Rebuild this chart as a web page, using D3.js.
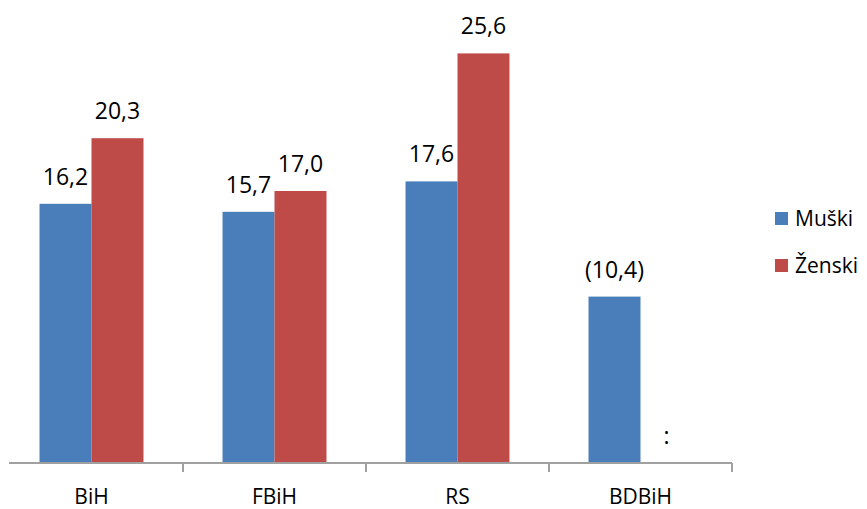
<!DOCTYPE html>
<html>
<head>
<meta charset="utf-8">
<script src="https://cdn.jsdelivr.net/npm/d3@7"></script>
<style>
  html, body { margin: 0; padding: 0; background: #fff; }
  svg { display: block; }
  text { font-family: "Open Sans", "Noto Sans", sans-serif; fill: #000; }
</style>
</head>
<body>
<svg id="chart" width="867" height="509"></svg>
<script>
const categories = ["BiH", "FBiH", "RS", "BDBiH"];
const seriesNames = ["Muški", "Ženski"];
const muski = [16.2, 15.7, 17.6, 10.4];
const zenski = [20.3, 17.0, 25.6, null];
const muskiLabels = ["16,2", "15,7", "17,6", "(10,4)"];
const zenskiLabels = ["20,3", "17,0", "25,6", ":"];
const colors = ["#4a7ebb", "#be4b48"];

const svg = d3.select("#chart");
const baseY = 463;

const x = d3.scaleBand().domain(categories).range([0, 732]).paddingInner(0).paddingOuter(0);
const xs = d3.scaleBand().domain(seriesNames).range([0, x.bandwidth()]).paddingInner(0).paddingOuter(0.76);
const y = d3.scaleLinear().domain([0, 30]).range([baseY, baseY - 480]);

const series = [
  {name: seriesNames[0], values: muski, labels: muskiLabels, color: colors[0]},
  {name: seriesNames[1], values: zenski, labels: zenskiLabels, color: colors[1]}
];

const g = svg.append("g");

series.forEach(s => {
  const data = categories.map((c, i) => ({c, v: s.values[i], label: s.labels[i]}));
  g.selectAll(null).data(data.filter(d => d.v != null)).enter().append("rect")
    .attr("x", d => x(d.c) + xs(s.name))
    .attr("width", xs.bandwidth())
    .attr("y", d => y(d.v))
    .attr("height", d => y(0) - y(d.v))
    .attr("fill", s.color);
  g.selectAll(null).data(data).enter().append("text")
    .attr("x", d => x(d.c) + xs(s.name) + xs.bandwidth() / 2)
    .attr("y", d => y(d.v == null ? 0 : d.v) - 19)
    .attr("text-anchor", "middle")
    .attr("font-size", 23)
    .text(d => d.label);
});

// axis
const axisColor = "#a0a0a0";
svg.append("line").attr("x1", 9).attr("x2", x.range()[1]).attr("y1", baseY).attr("y2", baseY)
  .attr("stroke", axisColor).attr("stroke-width", 2);
categories.forEach(c => {
  const xe = x(c) + x.bandwidth();
  svg.append("line").attr("x1", xe).attr("x2", xe).attr("y1", baseY).attr("y2", baseY + 9)
    .attr("stroke", axisColor).attr("stroke-width", 2);
});
svg.append("g").selectAll("text").data(categories).enter().append("text")
  .attr("x", d => x(d) + x.bandwidth() / 2)
  .attr("y", 504)
  .attr("text-anchor", "middle")
  .attr("font-size", 21)
  .text(d => d);

// legend
const legend = svg.append("g");
series.forEach((s, i) => {
  const ly = 219 + i * 47;
  legend.append("rect").attr("x", 775).attr("y", ly - 7).attr("width", 13).attr("height", 13).attr("fill", s.color);
  legend.append("text").attr("x", 795).attr("y", ly).attr("dy", "0.35em").attr("font-size", 21).text(s.name);
});
</script>
</body>
</html>
